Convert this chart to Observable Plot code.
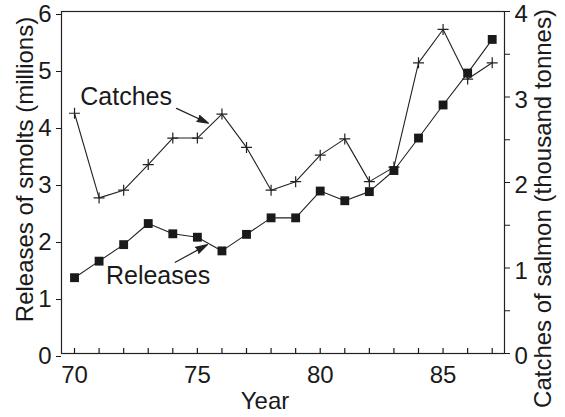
<!DOCTYPE html>
<html>
<head>
<meta charset="utf-8">
<script src="https://cdn.jsdelivr.net/npm/d3@7"></script>
<script src="https://cdn.jsdelivr.net/npm/@observablehq/plot@0.6"></script>
<style>
  body { margin: 0; background: #fff; }
  svg { font-family: "Liberation Sans", Arial, sans-serif; }
</style>
</head>
<body>
<div id="chart"></div>
<script>
const years = [70, 71, 72, 73, 74, 75, 76, 77, 78, 79, 80, 81, 82, 83, 84, 85, 86, 87];
const releases = [1.33, 1.62, 1.91, 2.28, 2.10, 2.04, 1.80, 2.09, 2.38, 2.38, 2.85, 2.68, 2.84, 3.21, 3.78, 4.36, 4.92, 5.51];
const catches = [2.81, 1.82, 1.91, 2.21, 2.52, 2.52, 2.80, 2.41, 1.91, 2.01, 2.32, 2.51, 2.01, 2.18, 3.40, 3.79, 3.21, 3.40];
const xTickLabels = [70, 75, 80, 85];
const leftTicks = [0, 1, 2, 3, 4, 5, 6];
const rightTicks = [0, 0.5, 1, 1.5, 2, 2.5, 3, 3.5, 4];
const rightTickLabels = [0, 1, 2, 3, 4];
// annotation labels and arrows (in data units: year, left-axis value)
const annLabels = ["Catches", "Releases"];
const annX = [72.1, 73.4];
const annY = [4.5, 1.36];
const arrowX1 = [74.15, 74.1];
const arrowY1 = [4.3, 1.6];
const arrowX2 = [75.45, 75.41];
const arrowY2 = [4.04, 1.91];

const scaleRatio = 1.5; // catches (0–4) mapped onto releases scale (0–6)
const data = years.map((yr, i) => ({year: yr, releases: releases[i], catches: catches[i] * scaleRatio}));
const annotations = annLabels.map((label, i) => ({label, x: annX[i], y: annY[i], x1: arrowX1[i], y1: arrowY1[i], x2: arrowX2[i], y2: arrowY2[i]}));

const plusSymbol = {
  draw(context, size) {
    const r = Math.sqrt(size / Math.PI);
    context.moveTo(-r, 0); context.lineTo(r, 0);
    context.moveTo(0, -r); context.lineTo(0, r);
  }
};

const ink = "#1a1a1a";

const chart = Plot.plot({
  width: 565,
  height: 417,
  marginLeft: 61,
  marginRight: 61,
  marginTop: 11,
  marginBottom: 64,
  style: {fontFamily: "Liberation Sans, Arial, sans-serif", color: ink, background: "#fff"},
  x: {domain: [69.47, 87.5]},
  y: {domain: [0, 6]},
  marks: [
    Plot.frame({stroke: "#222", strokeWidth: 1.2}),
    // bottom axis: inward minor ticks every year
    Plot.axisX({anchor: "bottom", ticks: years, tickSize: -5, tickFormat: () => "", label: null, strokeWidth: 1.2}),
    Plot.axisX({anchor: "bottom", ticks: xTickLabels, tickSize: 0, tickPadding: 12, fontSize: 24, label: null}),
    // left axis
    Plot.axisY({anchor: "left", ticks: leftTicks, tickSize: 5, tickPadding: 5, fontSize: 24, label: null, tickFormat: d => d, dy: 3}),
    // right axis (catches)
    Plot.axisY({anchor: "right", ticks: rightTicks.map(d => d * scaleRatio), tickSize: 5, tickFormat: () => "", label: null}),
    Plot.axisY({anchor: "right", ticks: rightTickLabels.map(d => d * scaleRatio), tickSize: 0, tickPadding: 10, fontSize: 24, label: null, tickFormat: d => d / scaleRatio, dy: 3}),
    // axis titles
    Plot.text(["Releases of smolts (millions)"], {frameAnchor: "left", textAnchor: "middle", lineAnchor: "middle", dx: -36, dy: -13, rotate: -90, fontSize: 24, fill: ink}),
    Plot.text(["Catches of salmon (thousand tonnes)"], {frameAnchor: "right", textAnchor: "middle", lineAnchor: "middle", dx: 39, dy: 26, rotate: -90, fontSize: 24, fill: ink}),
    Plot.text(["Year"], {frameAnchor: "bottom", textAnchor: "middle", lineAnchor: "middle", dx: -18, dy: 48, fontSize: 24, fill: ink}),
    // series
    Plot.line(data, {x: "year", y: "catches", stroke: "#222", strokeWidth: 1.1}),
    Plot.dot(data, {x: "year", y: "catches", symbol: plusSymbol, r: 5.5, stroke: "#222", strokeWidth: 1.2, fill: "none"}),
    Plot.line(data, {x: "year", y: "releases", stroke: "#222", strokeWidth: 1.1}),
    Plot.dot(data, {x: "year", y: "releases", symbol: "square", r: 5, fill: ink, stroke: "none"}),
    // annotations
    Plot.text(annotations, {x: "x", y: "y", text: "label", fontSize: 25, fill: ink, textAnchor: "middle", lineAnchor: "middle"}),
    Plot.arrow(annotations, {x1: "x1", y1: "y1", x2: "x2", y2: "y2", stroke: "#222", fill: "#222", strokeWidth: 1.2, headLength: 18, headAngle: 32})
  ]
});

document.getElementById("chart").append(chart);
</script>
</body>
</html>
